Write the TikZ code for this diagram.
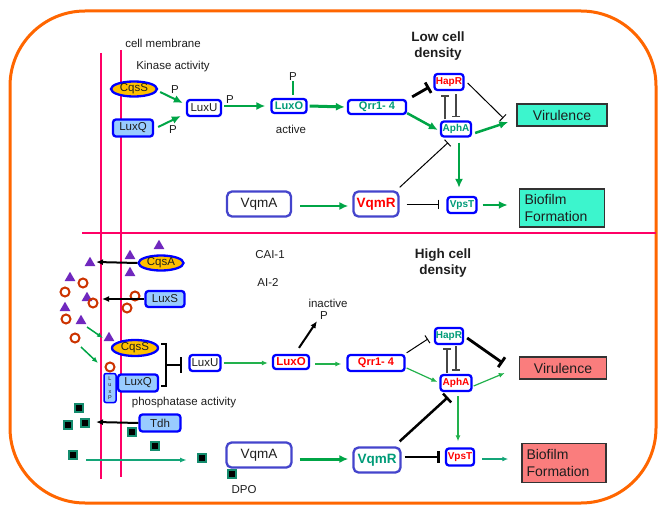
\documentclass[tikz,border=0pt]{standalone}
\usepackage{fontspec}
\setmainfont{Liberation Sans}
\usetikzlibrary{shapes.geometric,arrows.meta,calc}
\definecolor{orng}{RGB}{255,102,0}
\definecolor{memb}{RGB}{255,0,102}
\definecolor{bluB}{RGB}{0,0,255}
\definecolor{vqB}{RGB}{68,68,204}
\definecolor{goldF}{RGB}{255,192,0}
\definecolor{lblue}{RGB}{153,204,255}
\definecolor{aqua}{RGB}{60,245,205}
\definecolor{salm}{RGB}{250,125,125}
\definecolor{tealT}{RGB}{0,155,120}
\definecolor{grn}{RGB}{0,165,70}
\definecolor{grnT}{RGB}{34,177,76}
\definecolor{tealA}{RGB}{20,165,120}
\definecolor{purp}{RGB}{112,40,190}
\definecolor{ringC}{RGB}{204,51,0}
\definecolor{sqB}{RGB}{20,140,110}
\definecolor{txt}{RGB}{30,30,30}
\definecolor{grayL}{RGB}{70,70,70}
\tikzset{
  every node/.style={font=\fontsize{11.5}{13}\selectfont, text=txt, inner sep=0pt},
  pbox/.style={draw=bluB, line width=2.3, rounded corners=3, fill=white},
  fbox/.style={pbox, fill=lblue},
  ell/.style={ellipse, draw=bluB, line width=2.3, fill=goldF},
  vbox/.style={draw=vqB, line width=2.3, rounded corners=5, fill=white, font=\fontsize{13.5}{15}\selectfont},
  outbox/.style={draw=black!80, line width=1.5, fill=#1, font=\fontsize{14}{17}\selectfont},
  boldt/.style={font=\bfseries\fontsize{11}{12}\selectfont},
  smallb/.style={font=\bfseries\fontsize{10}{11}\selectfont},
  gthick/.style={draw=grn, line width=2.5, -{Latex[length=9pt,width=8pt]}},
  gthin/.style={draw=grnT, line width=1.2, -{Latex[length=6pt,width=5pt]}},
  inhthin/.style={draw=black, line width=1, -{Bar[width=9pt]}},
  inhthick/.style={draw=black, line width=2.8, -{Bar[width=12pt]}},
  inhgray/.style={draw=grayL, line width=1.5, -{Bar[width=8pt]}},
  blk/.style={draw=black, line width=2, -{Latex[length=7pt,width=6pt]}},
  tri/.style={regular polygon, regular polygon sides=3, fill=purp, minimum size=12.5},
  ringn/.style={circle, draw=ringC, line width=2, minimum size=9},
  sqn/.style={rectangle, fill=black, draw=sqB, line width=1.5, minimum size=8},
  bigbold/.style={font=\bfseries\fontsize{13.5}{16}\selectfont, align=center},
}
\begin{document}
\begin{tikzpicture}[x=1pt,y=-1pt]
\useasboundingbox (0,0) rectangle (669,516);
% frame
\draw[orng, line width=3, rounded corners=75] (10,11) rectangle (656,503);
% membrane and divider
\draw[memb, line width=2] (101,53) -- (101,479);
\draw[memb, line width=2] (121,50) -- (121,477);
\draw[memb, line width=2.2] (82,233) -- (656,233);

% ---------------- top: low cell density
\node (cm) at (163,43) {cell membrane};
\node (ka) at (173,67) {Kinase activity};
\node[bigbold] (low) at (438,46) {Low cell\\density};

\node[ell, minimum width=46, minimum height=15] (cqsS1) at (134,89) {CqsS};
\node[fbox, minimum width=40, minimum height=17] (luxQ1) at (133,128) {LuxQ};
\node[pbox, minimum width=34, minimum height=16] (luxU1) at (204,108) {LuxU};
\node[pbox, minimum width=35, minimum height=14, boldt, text=tealT] (luxO1) at (289,106) {LuxO};
\node[pbox, minimum width=58, minimum height=14, boldt, text=tealT] (qrr1) at (377,107) {Qrr1- 4};
\node[pbox, minimum width=29, minimum height=16, smallb, text=red] (hapR1) at (449,82) {HapR};
\node[pbox, minimum width=30, minimum height=15, smallb, text=tealT] (aphA1) at (456,129) {AphA};
\node[outbox=aqua, minimum width=90, minimum height=22] (vir1) at (562,115) {Virulence};
\node[outbox=aqua, minimum width=85, minimum height=38, text width=75, align=left] (bio1) at (562,208) {Biofilm\\Formation};
\node[vbox, minimum width=64, minimum height=25] (vqmA1) at (259,204) {VqmA};
\node[vbox, minimum width=45, minimum height=25, font=\bfseries\fontsize{13.5}{15}\selectfont, text=red] (vqmR1) at (376,204) {VqmR};
\node[pbox, minimum width=29, minimum height=16, smallb, text=tealT] (vpsT1) at (462,205) {VpsT};

\node (p1) at (175,90) {P};
\node (p2) at (173,130) {P};
\node (p3) at (230,100) {P};
\node (pO) at (293,77) {P};
\node (act) at (291,129) {active};

\draw[gthick, line width=2] ($(cqsS1.east)+(2,3)$) -- ($(luxU1.west)+(-3,-5)$);
\draw[gthick, line width=2] ($(luxQ1.east)+(4,-1)$) -- ($(luxU1.west)+(-5,8)$);
\draw[gthick, line width=2] ($(luxU1.east)+(2,-2)$) -- ($(luxO1.west)+(-5,0)$);
\draw[grn, line width=2] (pO.south) -- ($(luxO1.north)+(4,-3)$);
\draw[gthick, line width=3] ($(luxO1.east)+(2,0)$) -- ($(qrr1.west)+(-2,0)$);
\draw[inhthick] ($(qrr1.north east)+(5,-2)$) -- ($(hapR1.west)+(-4,5)$);
\draw[gthick] ($(qrr1.south east)+(0,-2)$) -- ($(aphA1.west)+(-2,1)$);
\draw[inhgray] ($(aphA1.north)+(-11,-1)$) -- ($(hapR1.south)+(-4,4)$);
\draw[inhgray] ($(hapR1.south)+(7,3)$) -- ($(aphA1.north)+(0,-3)$);
\draw[inhthin] ($(hapR1.east)+(3,1)$) -- ($(vir1.west)+(-13,3)$);
\draw[gthick] ($(aphA1.east)+(3,4)$) -- ($(vir1.west)+(-8,7)$);
\draw[gthick] ($(aphA1.south)+(3,5)$) -- ($(vpsT1.north)+(-3,-8)$);
\draw[inhthin] ($(vqmR1.north east)+(0,-3)$) -- ($(aphA1.south)+(-8,5)$);
\draw[inhthin] ($(vqmR1.east)+(7,0)$) -- ($(vpsT1.west)+(-7,-1)$);
\draw[gthick] ($(vpsT1.east)+(5,0)$) -- ($(bio1.west)+(-11,-3)$);
\draw[gthick, line width=2] ($(vqmA1.east)+(8,2)$) -- ($(vqmR1.west)+(-4,2)$);

% ---------------- bottom: high cell density
\node[bigbold] (high) at (443,263) {High cell\\density};
\node (cai) at (270,255) {CAI-1};
\node (ai2) at (268,282) {AI-2};
\node (inact) at (328,303) {inactive};
\node (pin) at (324,316) {P};
\node (phos) at (184,403) {phosphatase activity};
\node (dpo) at (244,490) {DPO};

% molecules
\node[tri] (t1) at (159,246) {};
\node[tri] (t2) at (130,256) {};
\node[tri] (t3) at (130,273) {};
\node[tri] (t4) at (90,263) {};
\node[tri] (t5) at (70,278) {};
\node[tri] (t6) at (87,298) {};
\node[tri] (t7) at (65,308) {};
\node[tri] (t8) at (81,321) {};
\node[tri] (t9) at (109,338) {};
\node[ringn] (r1) at (83,283) {};
\node[ringn] (r2) at (65,292) {};
\node[ringn] (r3) at (93,303) {};
\node[ringn] (r4) at (135,296) {};
\node[ringn] (r5) at (127,308) {};
\node[ringn] (r6) at (66,319) {};
\node[ringn] (r7) at (75,338) {};
\node[ringn] (r8) at (110,367) {};
\node[sqn] (s1) at (79,408) {};
\node[sqn] (s2) at (68,425) {};
\node[sqn] (s3) at (85,423) {};
\node[sqn] (s4) at (132,432) {};
\node[sqn] (s5) at (155,446) {};
\node[sqn] (s6) at (73,455) {};
\node[sqn] (s7) at (202,458) {};
\node[sqn] (s8) at (232,474) {};

\node[ell, minimum width=45, minimum height=15] (cqsA) at (161,263) {CqsA};
\node[fbox, minimum width=39, minimum height=16] (luxS) at (165,299) {LuxS};
\node[ell, minimum width=46, minimum height=16] (cqsS2) at (135,348) {CqsS};
\node[fbox, minimum width=40, minimum height=17] (luxQ2) at (138,383) {LuxQ};
\node[fbox, line width=1.5, rounded corners=2, minimum width=12, minimum height=29, align=center,
      font=\fontsize{5.5}{6.5}\selectfont] (luxP) at (110,388) {L\\u\\x\\P};
\node[fbox, minimum width=41, minimum height=17] (tdh) at (160,423) {Tdh};
\node[pbox, minimum width=31, minimum height=16] (luxU2) at (205,363) {LuxU};
\node[pbox, minimum width=36, minimum height=14, font=\bfseries\fontsize{11.5}{13}\selectfont, text=red] (luxO2) at (291,362) {LuxO};
\node[pbox, minimum width=57, minimum height=16, boldt, text=red] (qrr2) at (376,363) {Qrr1- 4};
\node[pbox, minimum width=28, minimum height=16, smallb, text=tealT] (hapR2) at (449,336) {HapR};
\node[pbox, minimum width=31, minimum height=16, smallb, text=red] (aphA2) at (456,383) {AphA};
\node[outbox=salm, minimum width=87, minimum height=22] (vir2) at (563,368) {Virulence};
\node[outbox=salm, minimum width=84, minimum height=39, text width=75, align=left] (bio2) at (564,463) {Biofilm\\Formation};
\node[vbox, minimum width=65, minimum height=25] (vqmA2) at (259,455) {VqmA};
\node[vbox, minimum width=47, minimum height=25, font=\bfseries\fontsize{13.5}{15}\selectfont, text=tealT] (vqmR2) at (377,460) {VqmR};
\node[pbox, minimum width=28, minimum height=17, smallb, text=red] (vpsT2) at (460,457) {VpsT};

\coordinate (ca) at (96,262);
\coordinate (ls) at (102,299);
\coordinate (td) at (96,422);
\draw[blk] (cqsA.west) -- (ca);
\draw[blk] (luxS.west) -- (ls);
\draw[blk] (tdh.west) -- (td);
\draw[gthin, line width=1.5, draw=grn] ($(t8)+(6,6)$) -- ($(t9)+(-6,0)$);
\draw[gthin, line width=1.5, draw=grn] ($(r7)+(6,9)$) -- ($(r8)+(-12,-4)$);
\draw[tealA, line width=1.5, -{Latex[length=7pt,width=5pt]}] ($(s6)+(13,5)$) -- ($(s7)+(-15,2)$);

% bracket
\draw[black, line width=2] (161,344) -- (166,344) -- (166,386) -- (161,386);
\coordinate (brk) at (166,365);
\draw[black, line width=2, -{Bar[width=16pt]}, shorten >=6] (brk) -- (luxU2.west |- brk);

\draw[gthin] ($(luxU2.east)+(2,0)$) -- ($(luxO2.west)+(-4,1)$);
\draw[blk] ($(luxO2.north)+(8,-6)$) -- ($(pin.south west)+(-3,1)$);
\draw[gthin] ($(luxO2.east)+(5,2)$) -- ($(qrr2.west)+(-5,1)$);
\draw[inhthin] ($(qrr2.north east)+(1,-1)$) -- ($(hapR2.west)+(-6,3)$);
\draw[gthin] ($(qrr2.east)+(1,5)$) -- ($(aphA2.west)+(-2,-1)$);
\draw[inhgray] ($(aphA2.north)+(-9,-1)$) -- ($(hapR2.south)+(-2,3)$);
\draw[inhgray] ($(hapR2.south)+(7,1)$) -- ($(aphA2.north)+(0,-3)$);
\draw[inhthick] ($(hapR2.east)+(3,2)$) -- ($(vir2.west)+(-16,-5)$);
\draw[gthin] ($(aphA2.east)+(1,3)$) -- ($(vir2.west)+(-14,5)$);
\draw[gthin] ($(aphA2.south)+(2,4)$) -- ($(vpsT2.north)+(-2,-6)$);
\draw[inhthick, line width=2.5] ($(vqmR2.north east)+(-2,-5)$) -- ($(aphA2.south)+(-8,5)$);
\draw[inhthick, line width=2.5] ($(vqmR2.east)+(3,-3)$) -- ($(vpsT2.west)+(-5,0)$);
\draw[tealA, line width=1.2, -{Latex[length=6pt,width=5pt]}] ($(vpsT2.east)+(7,2)$) -- ($(bio2.west)+(-13,-4)$);
\draw[gthick, line width=3] ($(vqmA2.east)+(7,4)$) -- ($(vqmR2.west)+(-4,-1)$);
\end{tikzpicture}
\end{document}
